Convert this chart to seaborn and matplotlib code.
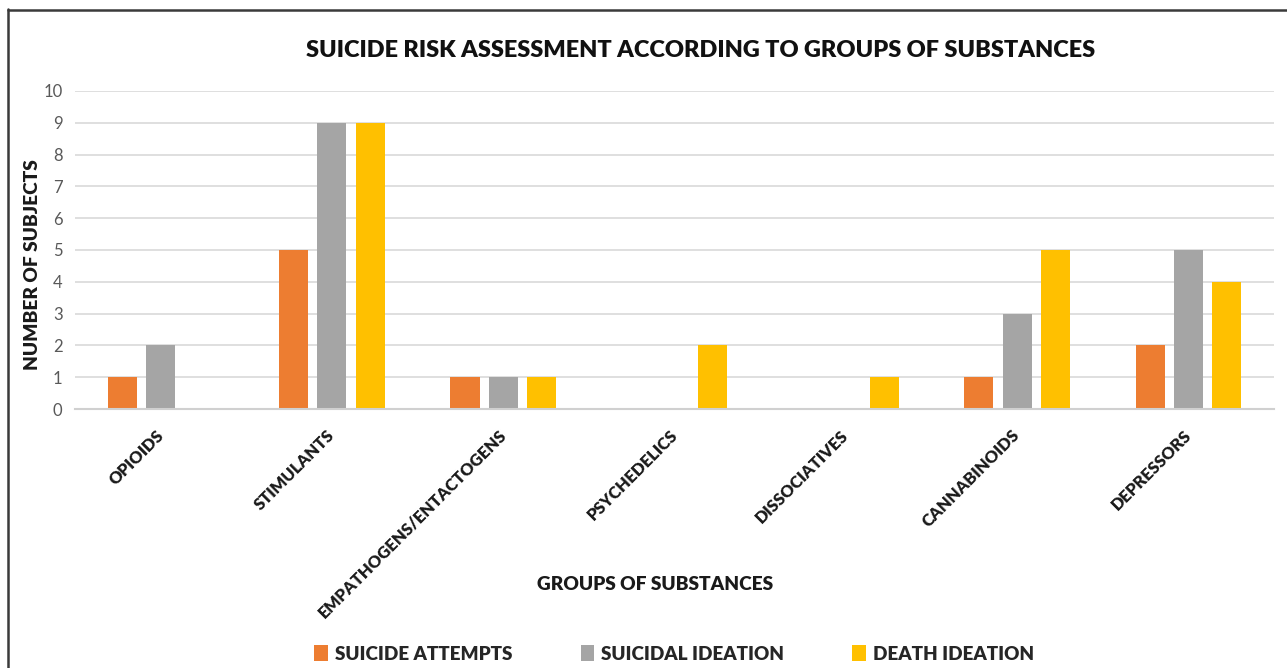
import pandas as pd
import numpy as np
import matplotlib
matplotlib.use("Agg")
import matplotlib.pyplot as plt
import matplotlib.transforms as mtrans
import seaborn as sns

# dados
grupos = ['OPIOIDS', 'STIMULANTS', 'EMPATHOGENS/ENTACTOGENS', 'PSYCHEDELICS',
          'DISSOCIATIVES', 'CANNABINOIDS', 'DEPRESSORS']
tentativas = [1, 5, 1, 0, 0, 1, 2]
ideacaoSuicida = [2, 9, 1, 0, 0, 3, 5]
ideacaoMorte = [0, 9, 1, 2, 1, 5, 4]
series = ['SUICIDE ATTEMPTS', 'SUICIDAL IDEATION', 'DEATH IDEATION']
cores = ['#ED7D31', '#A5A5A5', '#FFC000']
yTicks = [0, 1, 2, 3, 4, 5, 6, 7, 8, 9, 10]


def criaDataFrame():
    linhas = []
    for nome, vals in zip(series, [tentativas, ideacaoSuicida, ideacaoMorte]):
        for g, v in zip(grupos, vals):
            linhas.append({'grupo': g, 'serie': nome, 'valor': v})
    return pd.DataFrame(linhas)


def geraGrafico(dtSet):
    sns.set_style('white')
    plt.rcParams['font.family'] = ['Lato', 'DejaVu Sans']

    fig = plt.figure(figsize=(12.87, 6.68), dpi=100)
    ax = fig.add_axes([0.0583, 0.3877, 0.9316, 0.4761])

    sns.barplot(data=dtSet, x='grupo', y='valor', hue='serie', order=grupos,
                hue_order=series, palette=cores, width=0.67, gap=0.24,
                saturation=1, ax=ax, errorbar=None, linewidth=0)

    ax.set_ylim(0, 10)
    ax.set_xlim(-0.5, len(grupos) - 0.5)
    ax.set_yticks(yTicks)
    ax.yaxis.grid(True, color='#D9D9D9', linewidth=1.2)
    ax.set_axisbelow(True)
    for lado in ['top', 'right', 'left']:
        ax.spines[lado].set_visible(False)
    ax.spines['bottom'].set_color('#D0D0D0')
    ax.spines['bottom'].set_linewidth(1.5)

    ax.tick_params(axis='y', length=0, pad=9, labelsize=12, labelcolor='#595959')
    ax.tick_params(axis='x', length=0, pad=13)
    ax.set_xticks(range(len(grupos)))
    ax.set_xticklabels(grupos, rotation=45, ha='right', fontsize=12,
                       fontweight='heavy', color='#1a1a1a')
    desloca = mtrans.ScaledTranslation(6 / 100, 0, fig.dpi_scale_trans)
    for t in ax.get_xticklabels():
        t.set_transform(t.get_transform() + desloca)

    ax.set_xlabel('GROUPS OF SUBSTANCES', fontsize=13.8, fontweight='heavy', color='#1a1a1a')
    ax.xaxis.set_label_coords(0.484, -0.525)
    ax.set_ylabel('NUMBER OF SUBJECTS', fontsize=13.8, fontweight='heavy', color='#1a1a1a')
    ax.yaxis.set_label_coords(-0.028, 0.455)

    fig.text(0.544, 0.925, 'SUICIDE RISK ASSESSMENT ACCORDING TO GROUPS OF SUBSTANCES',
             ha='center', va='center', fontsize=16.9, fontweight='heavy', color='#111111')

    handles, labels = ax.get_legend_handles_labels()
    ax.get_legend().remove()
    fig.legend(handles, labels, loc='center', bbox_to_anchor=(0.524, 0.021), ncol=3,
               frameon=False, handlelength=0.7, handleheight=0.9, handletextpad=0.4,
               columnspacing=3.6, prop={'size': 13.6, 'weight': 'heavy'})

    # moldura (esquerda e topo)
    fig.add_artist(plt.Line2D([7.5 / 1287, 7.5 / 1287], [0, 1 - 9 / 668],
                              transform=fig.transFigure, color='#3a3a3a', linewidth=1.8))
    fig.add_artist(plt.Line2D([7.5 / 1287, 1], [1 - 9.5 / 668, 1 - 9.5 / 668],
                              transform=fig.transFigure, color='#3a3a3a', linewidth=1.8))

    fig.savefig('out.png', dpi=100)


def main():
    dtSet = criaDataFrame()
    geraGrafico(dtSet)


if __name__ == '__main__':
    main()
